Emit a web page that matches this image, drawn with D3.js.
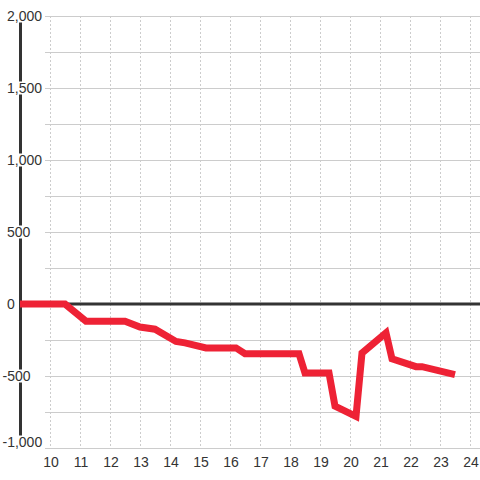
<!DOCTYPE html>
<html>
<head>
<meta charset="utf-8">
<script src="https://cdn.jsdelivr.net/npm/d3@7"></script>
<style>
  html, body { margin: 0; padding: 0; background: #fff; }
  svg { display: block; }
  text { font-family: "Liberation Sans", Arial, sans-serif; }
</style>
</head>
<body>
<script>
// Data
const xValues = [9, 10.5, 11.2, 12.5, 13, 13.5, 14.2, 14.5, 15.2, 16.2, 16.5, 18.3, 18.5, 19.3, 19.5, 20.2, 20.4, 21.2, 21.4, 22.2, 22.4, 23.5];
const yValues = [0, 0, -120, -120, -160, -175, -260, -270, -305, -305, -345, -345, -480, -480, -710, -780, -340, -200, -380, -435, -435, -490];
const xTicks = [10, 11, 12, 13, 14, 15, 16, 17, 18, 19, 20, 21, 22, 23, 24];
const yLabelTicks = [-1000, -500, 0, 500, 1000, 1500, 2000];
const yGridTicks = [-1000, -750, -500, -250, 0, 250, 500, 750, 1000, 1250, 1500, 1750, 2000];

const W = 480, H = 480;
const svg = d3.select("body").append("svg").attr("width", W).attr("height", H);

const x = d3.scaleLinear().domain([9, 24 + 1/3]).range([20, 480]);
const y = d3.scaleLinear().domain([-1000, 2000]).range([448, 16]);

const fmt = d3.format(",");

// horizontal grid
svg.append("g").selectAll("line").data(yGridTicks).join("line")
  .attr("x1", 45).attr("x2", 480)
  .attr("y1", d => Math.round(y(d)) + 0.5).attr("y2", d => Math.round(y(d)) + 0.5)
  .attr("stroke", "#cccccc").attr("stroke-width", 1);

// vertical dashed grid
svg.append("g").selectAll("line").data(xTicks).join("line")
  .attr("x1", d => Math.round(x(d)) + 0.5).attr("x2", d => Math.round(x(d)) + 0.5)
  .attr("y1", y(2000)).attr("y2", y(-1000))
  .attr("stroke", "#cccccc").attr("stroke-width", 1)
  .attr("stroke-dasharray", "2,2");

// y axis line
svg.append("line")
  .attr("x1", 20.5).attr("x2", 20.5)
  .attr("y1", y(2000)).attr("y2", y(-1000))
  .attr("stroke", "#333").attr("stroke-width", 3);

// zero line
svg.append("line")
  .attr("x1", 20).attr("x2", 480)
  .attr("y1", y(0)).attr("y2", y(0))
  .attr("stroke", "#333").attr("stroke-width", 3);

// data line
const pts = xValues.map((d, i) => [d, yValues[i]]);
svg.append("path")
  .datum(pts)
  .attr("d", d3.line().x(d => x(d[0])).y(d => y(d[1])))
  .attr("fill", "none")
  .attr("stroke", "#ee2235")
  .attr("stroke-width", 7)
  .attr("stroke-linejoin", "miter");

// y labels with white background
const yl = svg.append("g");
yLabelTicks.forEach(v => {
  const g = yl.append("g");
  const cy = v === -1000 ? y(v) - 6 : y(v);
  const t = g.append("text")
    .attr("x", v < 0 ? 2.5 : 7)
    .attr("y", cy)
    .attr("dy", "0.35em")
    .attr("font-size", 14)
    .attr("fill", "#333")
    .text(fmt(v).replace("−", "-"));
  const bb = t.node().getBBox();
  g.insert("rect", "text")
    .attr("x", bb.x).attr("y", cy - 6.5)
    .attr("width", bb.width).attr("height", 13)
    .attr("fill", "#fff");
});

// x labels
svg.append("g").selectAll("text").data(xTicks).join("text")
  .attr("x", d => x(d) + 1)
  .attr("y", 467)
  .attr("text-anchor", "middle")
  .attr("font-size", 14)
  .attr("fill", "#333")
  .text(d => d);
</script>
</body>
</html>
